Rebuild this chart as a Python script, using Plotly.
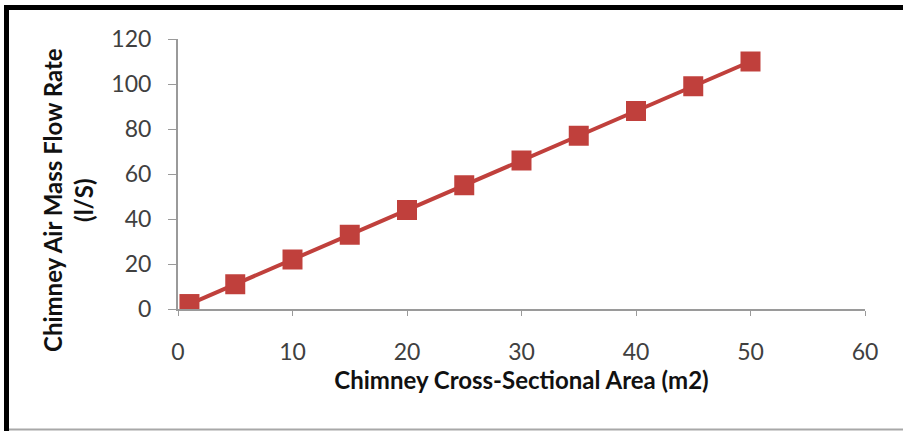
import plotly.graph_objects as go

# Chimney cross-sectional area (m2) vs. air mass flow rate (l/s)
area = [1, 5, 10, 15, 20, 25, 30, 35, 40, 45, 50]
flow_rate = [2.2, 11, 22, 33, 44, 55, 66, 77, 88, 99, 110]

x_ticks = [0, 10, 20, 30, 40, 50, 60]
y_ticks = [0, 20, 40, 60, 80, 100, 120]

RED = "#C0403C"
AXIS = "#9A9A9A"
TICK_FONT = dict(family="Lato, 'Open Sans', sans-serif", size=23, color="#404040")
TITLE_FONT = dict(family="Lato, 'Open Sans', sans-serif", size=24, color="#111111")

W, H = 903, 431
L, R, T, B = 178, 38, 39, 122
PW, PH = W - L - R, H - T - B


def px_x(p):
    return (p - L) / PW


def px_y(p):
    return (H - B - p) / PH


fig = go.Figure(
    go.Scatter(
        x=area,
        y=flow_rate,
        mode="lines+markers",
        line=dict(color=RED, width=4),
        marker=dict(symbol="square", size=20, color=RED),
        showlegend=False,
    )
)

fig.update_layout(
    width=W,
    height=H,
    margin=dict(l=L, r=R, t=T, b=B),
    paper_bgcolor="white",
    plot_bgcolor="white",
    xaxis=dict(
        range=[0, 60],
        tickvals=x_ticks,
        ticks="outside",
        ticklen=5,
        tickcolor=AXIS,
        showline=True,
        linecolor=AXIS,
        linewidth=2,
        showgrid=False,
        zeroline=False,
        tickfont=TICK_FONT,
        ticklabelstandoff=16,
        title=dict(
            text="<b>Chimney Cross-Sectional Area (m2)</b>",
            font=TITLE_FONT,
            standoff=8,
        ),
    ),
    yaxis=dict(
        range=[0, 120],
        tickvals=y_ticks,
        ticks="outside",
        ticklen=8,
        tickcolor=AXIS,
        showline=True,
        linecolor=AXIS,
        linewidth=2,
        showgrid=False,
        zeroline=False,
        tickfont=TICK_FONT,
        ticklabelstandoff=12,
    ),
    annotations=[
        dict(
            text="<b>Chimney Air Mass Flow Rate<br>(l/S)</b>",
            textangle=-90,
            xref="paper",
            yref="paper",
            x=px_x(68),
            y=px_y(200),
            xanchor="center",
            yanchor="middle",
            showarrow=False,
            font=TITLE_FONT,
        )
    ],
    shapes=[
        # frame around the chart
        dict(type="rect", xref="paper", yref="paper",
             x0=px_x(4), x1=px_x(W), y0=px_y(10), y1=px_y(5),
             fillcolor="black", line_width=0, layer="above"),
        dict(type="rect", xref="paper", yref="paper",
             x0=px_x(4), x1=px_x(9), y0=px_y(H), y1=px_y(5),
             fillcolor="black", line_width=0, layer="above"),
        dict(type="line", xref="paper", yref="paper",
             x0=px_x(9), x1=px_x(W), y0=px_y(429.5), y1=px_y(429.5),
             line=dict(color="#A8A8A8", width=2), layer="above"),
    ],
)

fig.write_html("out.html")
